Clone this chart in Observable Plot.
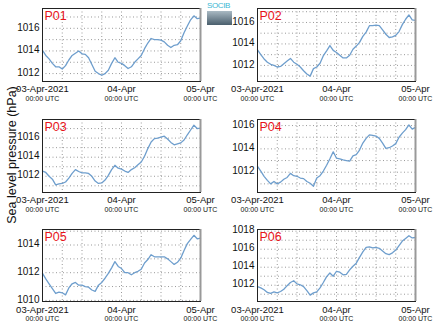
<!DOCTYPE html>
<html>
<head>
<meta charset="utf-8">
<script src="https://cdn.jsdelivr.net/npm/d3@7"></script>
<script src="https://cdn.jsdelivr.net/npm/@observablehq/plot@0.6"></script>
<style>
  html, body { margin: 0; padding: 0; background: #fff; }
  #root { position: relative; width: 435px; height: 327px; overflow: hidden; font-family: "Liberation Sans", Arial, sans-serif; }
  .panel { position: absolute; }
  #ytitle { position: absolute; left: 12px; top: 155px; transform: translate(-50%, -50%) rotate(-90deg); white-space: nowrap; font-size: 12.5px; color: #111; }
  #logo { position: absolute; left: 207px; top: 1px; width: 26px; }
  #logo .t { font-size: 8px; color: #3ab7d3; line-height: 9px; letter-spacing: -0.4px; white-space: nowrap; }
  #logo .b { height: 14px; width: 25px; background: linear-gradient(#a9b9c3, #4a5f6d); margin-top: 1px; }
</style>
</head>
<body>
<div id="root">
  <div id="ytitle">Sea level pressure (hPa)</div>
  <div id="logo"><div class="t">SOCIB</div><div class="b"></div></div>
</div>
<script>
// hours since 03-Apr-2021 00:00 UTC
const hours = [0,1,2,3,4,5,6,7,8,9,10,11,12,13,14,15,16,17,18,19,20,21,22,23,24,25,26,27,28,29,30,31,32,33,34,35,36,37,38,39,40,41,42,43,44,45,46,47,48];

const panelNames = ["P01", "P02", "P03", "P04", "P05", "P06"];

const p01 = [1014.05,1013.6,1013.3,1012.9,1012.6,1012.6,1012.4,1012.7,1013.2,1013.6,1013.8,1014.0,1013.75,1013.7,1013.4,1012.8,1012.2,1012.0,1011.85,1012.0,1012.3,1012.9,1013.4,1013.0,1012.9,1012.7,1012.45,1012.6,1013.0,1013.3,1013.6,1014.2,1014.7,1015.1,1015.0,1015.0,1014.95,1014.8,1014.5,1014.3,1014.5,1014.55,1014.9,1015.6,1016.2,1016.75,1017.1,1016.85,1016.9];
const p02 = [1013.45,1013.0,1012.6,1012.3,1012.1,1012.0,1011.85,1011.9,1012.15,1012.4,1012.65,1012.3,1012.1,1011.85,1011.5,1011.2,1011.0,1011.7,1011.85,1012.2,1012.9,1013.35,1013.85,1013.4,1013.2,1012.95,1012.7,1012.7,1012.95,1013.5,1013.8,1014.15,1014.7,1015.1,1015.7,1015.7,1015.75,1015.7,1015.3,1014.9,1014.6,1014.65,1014.8,1015.15,1015.8,1016.3,1016.7,1016.25,1016.2];
const p03 = [1012.55,1012.4,1012.0,1011.7,1011.1,1011.2,1011.25,1011.4,1011.8,1012.3,1012.7,1012.5,1012.35,1012.35,1012.3,1012.0,1011.5,1011.25,1011.3,1011.6,1012.1,1012.7,1013.15,1012.85,1012.75,1012.55,1012.4,1012.7,1012.9,1013.2,1013.5,1014.1,1014.9,1015.6,1015.95,1016.0,1016.1,1016.2,1015.9,1015.55,1015.3,1015.4,1015.5,1015.8,1016.35,1016.85,1017.35,1017.0,1017.05];
const p04 = [1012.5,1012.1,1011.65,1011.3,1011.0,1011.2,1011.0,1011.15,1011.4,1011.55,1011.9,1011.7,1011.65,1011.5,1011.45,1011.2,1011.05,1010.8,1011.5,1011.7,1012.1,1012.6,1013.15,1013.75,1013.2,1013.15,1013.05,1013.0,1012.95,1013.4,1013.5,1013.9,1014.5,1014.9,1015.2,1015.15,1015.1,1014.9,1014.5,1014.05,1014.1,1014.25,1014.45,1015.0,1015.35,1015.65,1016.05,1015.7,1015.85];
const p05 = [1011.95,1011.55,1011.2,1010.85,1010.5,1010.6,1010.55,1010.4,1010.9,1011.2,1011.3,1011.1,1011.1,1011.0,1010.95,1010.75,1010.65,1011.1,1011.3,1011.6,1011.95,1012.35,1012.8,1012.45,1012.3,1012.0,1012.0,1011.85,1012.0,1012.1,1012.25,1012.7,1012.95,1013.3,1013.15,1013.15,1013.15,1013.15,1013.0,1012.8,1012.6,1012.75,1013.05,1013.6,1014.1,1014.4,1014.7,1014.45,1014.5];
const p06 = [1011.85,1011.7,1011.5,1011.2,1011.1,1011.25,1011.15,1011.3,1011.55,1011.95,1012.3,1012.5,1012.15,1012.05,1011.85,1011.4,1010.9,1011.15,1011.25,1011.7,1012.3,1012.95,1013.35,1013.0,1013.55,1013.45,1013.15,1013.2,1013.7,1014.1,1014.45,1015.1,1015.7,1016.2,1016.25,1016.15,1016.2,1016.1,1015.8,1015.5,1015.4,1015.6,1015.9,1016.4,1016.9,1017.2,1017.5,1017.25,1017.3];

const yDomains = [
  [1011.3, 1017.75],
  [1010.5, 1017.3],
  [1010.3, 1017.95],
  [1010.26, 1016.52],
  [1009.92, 1015.12],
  [1010.19, 1018.19]
];

const xTickHours = [0, 24, 48];
const xTickLabels = ["03-Apr-2021", "04-Apr", "05-Apr"];
const xTickSub = ["00:00 UTC", "00:00 UTC", "00:00 UTC"];
const gridHours = [6, 12, 18, 24, 30, 36, 42];

const series = [p01, p02, p03, p04, p05, p06];
const toDate = h => new Date(Date.UTC(2021, 3, 3, h));

function panel(name, values, domain, bottomRow) {
  const data = hours.map((h, i) => ({t: toDate(h), v: values[i]}));
  const xTicks = xTickHours.map(toDate);
  const t0 = toDate(0), t1 = toDate(48);
  const yTicks = d3.range(Math.ceil(domain[0] / 2) * 2, domain[1], 2);
  const yGrid = d3.range(Math.ceil(domain[0]), domain[1], 1);
  const idx = d => xTicks.findIndex(t => +t === +d);
  return Plot.plot({
    width: 217, height: 108,
    marginLeft: 42, marginRight: 17, marginTop: 8, marginBottom: bottomRow ? 28 : 27,
    style: {fontFamily: "'Liberation Sans', Arial, sans-serif", background: "transparent", overflow: "visible", color: "#111"},
    x: {type: "utc", domain: [t0, t1]},
    y: {domain},
    marks: [
      Plot.gridX(gridHours.map(toDate), {stroke: "#999", strokeOpacity: 1, strokeDasharray: "1,2.5"}),
      Plot.gridY(yGrid, {stroke: "#999", strokeOpacity: 1, strokeDasharray: "1,2.5"}),
      Plot.line(data, {x: "t", y: "v", stroke: "#6e9ecd", strokeWidth: 1.3}),
      Plot.frame({stroke: "#222"}),
      Plot.ruleX([t1], {stroke: "#999", strokeWidth: 2}),
      Plot.axisY(yTicks, {tickSize: 0, tickPadding: 3, fontSize: 10, dy: -1, label: null, tickFormat: d => String(d)}),
      Plot.axisX(xTicks, {tickSize: 0, tickPadding: bottomRow ? 5 : 4, fontSize: 9.5, label: null, tickFormat: d => xTickLabels[idx(d)]}),
      Plot.text(xTicks, {x: d => d, frameAnchor: "bottom", dy: 19.5, fontSize: 7, text: d => xTickSub[idx(d)]}),
      Plot.text([name], {frameAnchor: "top-left", dx: 2, dy: 3, fill: "#e8141a", fontSize: 12.5, text: d => d})
    ]
  });
}

const root = document.getElementById("root");
const lefts = [0, 215];
const tops = [0, 111, 221];
series.forEach((vals, i) => {
  const div = document.createElement("div");
  div.className = "panel";
  div.style.left = lefts[i % 2] + "px";
  div.style.top = tops[Math.floor(i / 2)] + "px";
  div.appendChild(panel(panelNames[i], vals, yDomains[i], Math.floor(i / 2) === 2));
  root.appendChild(div);
});
</script>
</body>
</html>
